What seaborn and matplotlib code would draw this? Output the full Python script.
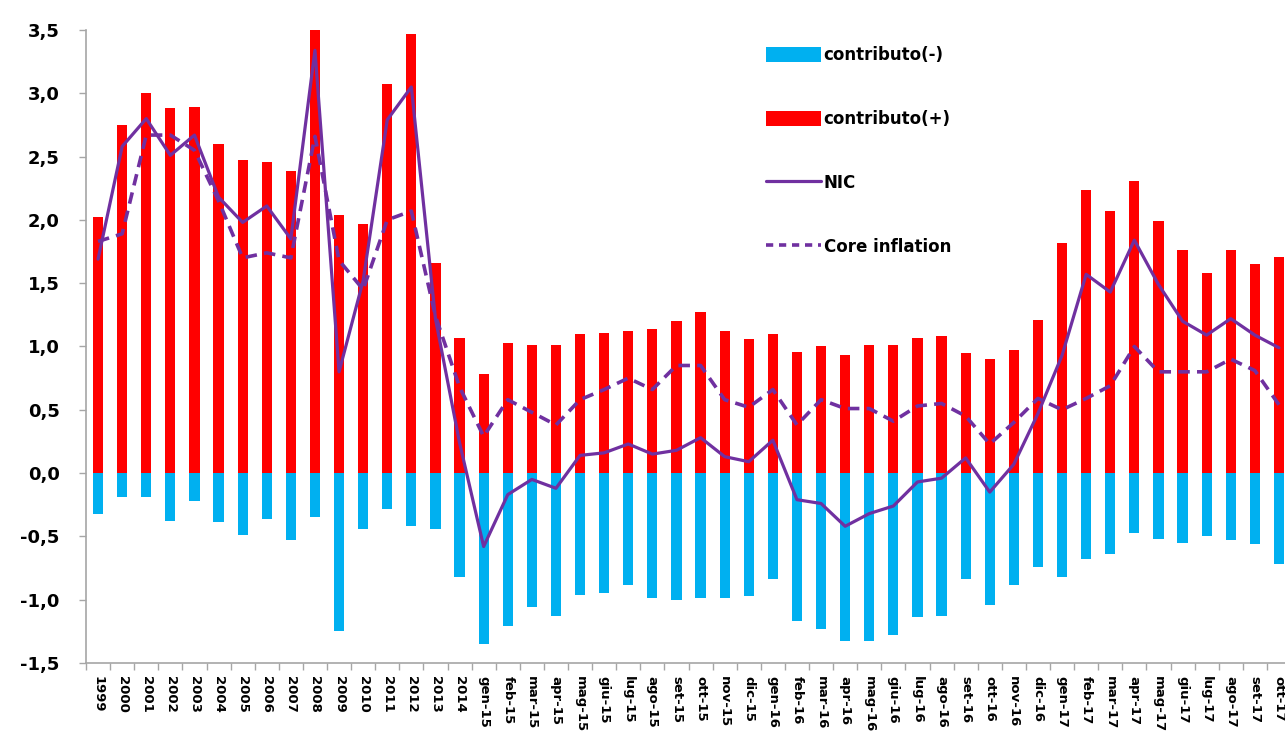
import numpy as np
import pandas as pd
import matplotlib
matplotlib.use("Agg")
import matplotlib.pyplot as plt
from matplotlib.patches import Patch
from matplotlib.lines import Line2D
from matplotlib.ticker import FixedLocator, FuncFormatter
import seaborn as sns

# ---------------- data ----------------
categories = (
    [str(y) for y in range(1999, 2015)]
    + ["gen-15", "feb-15", "mar-15", "apr-15", "mag-15", "giu-15", "lug-15", "ago-15",
       "set-15", "ott-15", "nov-15", "dic-15",
       "gen-16", "feb-16", "mar-16", "apr-16", "mag-16", "giu-16", "lug-16", "ago-16",
       "set-16", "ott-16", "nov-16", "dic-16",
       "gen-17", "feb-17", "mar-17", "apr-17", "mag-17", "giu-17", "lug-17", "ago-17",
       "set-17", "ott-17"]
)

contrib_pos = [
    2.02, 2.75, 3.00, 2.88, 2.89, 2.60, 2.47, 2.46, 2.39, 3.50, 2.04, 1.97, 3.07, 3.47, 1.66, 1.07,
    0.78, 1.03, 1.01, 1.01, 1.10, 1.11, 1.12, 1.14, 1.20, 1.27, 1.12, 1.06,
    1.10, 0.96, 1.00, 0.93, 1.01, 1.01, 1.07, 1.08, 0.95, 0.90, 0.97, 1.21,
    1.82, 2.24, 2.07, 2.31, 1.99, 1.76, 1.58, 1.76, 1.65, 1.71,
]

contrib_neg = [
    -0.32, -0.19, -0.19, -0.38, -0.22, -0.39, -0.49, -0.36, -0.53, -0.35, -1.25, -0.44, -0.28, -0.42, -0.44, -0.82,
    -1.35, -1.21, -1.06, -1.13, -0.96, -0.95, -0.88, -0.99, -1.00, -0.99, -0.99, -0.97,
    -0.84, -1.17, -1.23, -1.33, -1.33, -1.28, -1.14, -1.13, -0.84, -1.04, -0.88, -0.74,
    -0.82, -0.68, -0.64, -0.47, -0.52, -0.55, -0.50, -0.53, -0.56, -0.72,
]

nic = [
    1.69, 2.58, 2.80, 2.51, 2.67, 2.18, 1.98, 2.11, 1.85, 3.34, 0.80, 1.52, 2.79, 3.05, 1.22, 0.24,
    -0.58, -0.17, -0.05, -0.12, 0.14, 0.16, 0.23, 0.15, 0.18, 0.28, 0.13, 0.09,
    0.26, -0.21, -0.24, -0.42, -0.32, -0.26, -0.07, -0.04, 0.12, -0.15, 0.07, 0.47,
    0.93, 1.57, 1.43, 1.84, 1.49, 1.20, 1.09, 1.22, 1.09, 0.99,
]

core = [
    1.83, 1.89, 2.67, 2.67, 2.55, 2.15, 1.70, 1.74, 1.70, 2.66, 1.68, 1.45, 2.00, 2.07, 1.24, 0.68,
    0.29, 0.58, 0.48, 0.38, 0.58, 0.66, 0.75, 0.66, 0.85, 0.85, 0.58, 0.52,
    0.66, 0.38, 0.58, 0.51, 0.51, 0.41, 0.53, 0.55, 0.45, 0.23, 0.40, 0.59,
    0.50, 0.59, 0.69, 1.00, 0.80, 0.80, 0.80, 0.90, 0.81, 0.54,
]

y_ticks = [-1.5, -1.0, -0.5, 0.0, 0.5, 1.0, 1.5, 2.0, 2.5, 3.0, 3.5]

legend_labels = ["contributo(-)", "contributo(+)", "NIC", "Core inflation"]

# ---------------- style ----------------
RED = "#FF0000"
BLUE = "#00B0F0"
PURPLE = "#7030A0"
GRAY = "#A6A6A6"

sns.set_style("white")
plt.rcParams["font.family"] = ["DejaVu Sans"]
plt.rcParams["text.color"] = "black"

df = pd.DataFrame({"cat": categories, "pos": contrib_pos, "neg": contrib_neg,
                   "nic": nic, "core": core})
df["idx"] = np.arange(len(df))

fig = plt.figure(figsize=(12.85, 7.31), dpi=100)
ax = fig.add_axes([86 / 1285, 1 - 663 / 731, 1205 / 1285, 633 / 731])

sns.barplot(data=df, x="cat", y="pos", order=categories, color=RED, width=0.42,
            saturation=1, ax=ax, linewidth=0)
sns.barplot(data=df, x="cat", y="neg", order=categories, color=BLUE, width=0.42,
            saturation=1, ax=ax, linewidth=0)

sns.lineplot(data=df, x="idx", y="core", color=PURPLE, linewidth=2.6, ax=ax,
             linestyle=(0, (3.2, 2.0)))
sns.lineplot(data=df, x="idx", y="nic", color=PURPLE, linewidth=2.3, ax=ax)

ax.set_xlim(-0.5, len(categories) - 0.5)
ax.set_ylim(-1.5, 3.5)
ax.set_xlabel("")
ax.set_ylabel("")

# y axis
ax.yaxis.set_major_locator(FixedLocator(y_ticks))
ax.yaxis.set_major_formatter(FuncFormatter(lambda v, p: f"{v:.1f}".replace(".", ",")))
ax.tick_params(axis="y", which="major", direction="out", length=5, width=1, color=GRAY,
               pad=14, labelsize=13, left=True, labelcolor="black")
for lab in ax.get_yticklabels():
    lab.set_fontweight("bold")

# x axis
ax.set_xticks(np.arange(len(categories)))
ax.set_xticklabels(categories, rotation=270, fontsize=9.5, fontweight="heavy")
ax.tick_params(axis="x", which="major", length=0, pad=9, labelcolor="black")
ax.set_xticks(np.arange(len(categories) + 1) - 0.5, minor=True)
ax.tick_params(axis="x", which="minor", direction="out", length=5, width=1, color=GRAY,
               bottom=True)

for s in ["top", "right"]:
    ax.spines[s].set_visible(False)
for s in ["left", "bottom"]:
    ax.spines[s].set_color(GRAY)
    ax.spines[s].set_linewidth(1.2)

# legend
handles = [
    Patch(facecolor=BLUE, edgecolor="none"),
    Patch(facecolor=RED, edgecolor="none"),
    Line2D([], [], color=PURPLE, linewidth=2.3),
    Line2D([], [], color=PURPLE, linewidth=2.6, linestyle=(0, (2.0, 1.6))),
]
leg = ax.legend(handles, legend_labels, loc="upper left",
                bbox_to_anchor=(766 / 1285, 1 - 46 / 731), bbox_transform=fig.transFigure,
                frameon=False, borderpad=0, borderaxespad=0, handlelength=3.3,
                handleheight=1.0, handletextpad=0.15, labelspacing=2.75,
                prop={"weight": "bold", "size": 12})
for t in leg.get_texts():
    t.set_color("black")

fig.savefig("out.png", dpi=100, facecolor="white")
